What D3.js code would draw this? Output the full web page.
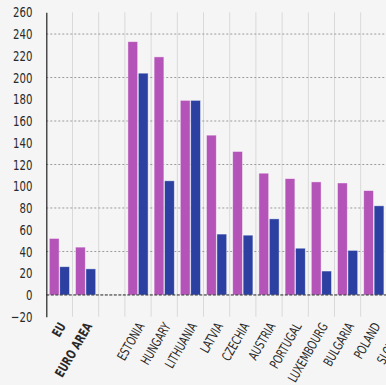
<!DOCTYPE html>
<html>
<head>
<meta charset="utf-8">
<script src="https://cdn.jsdelivr.net/npm/d3@7"></script>
<style>
  html, body { margin: 0; padding: 0; background: #f5f5f5; overflow: hidden; }
  svg { display: block; }
</style>
</head>
<body>
<div id="app"></div>
<script>
// Categories (blank gap after EURO AREA, last one cut off at the edge)
const categories = ['EU', 'EURO AREA', '', 'ESTONIA', 'HUNGARY', 'LITHUANIA', 'LATVIA', 'CZECHIA',
  'AUSTRIA', 'PORTUGAL', 'LUXEMBOURG', 'BULGARIA', 'POLAND', 'SLOVAKIA'];
const boldCats = ['EU', 'EURO AREA'];
const seriesA = [52, 44, 0, 233, 219, 179, 147, 132, 112, 107, 104, 103, 96, 90];
const seriesB = [26, 24, 0, 204, 105, 179, 56, 55, 70, 43, 22, 41, 82, 50];
const yTicks = d3.range(-20, 261, 20);
const gridTicks = [40, 80, 120, 160, 200, 240];

const W = 386, H = 385;
const left = 46.3, band = 26.2;
const font = '"DejaVu Sans Condensed", "Liberation Sans Narrow", sans-serif';

const svg = d3.select('#app').append('svg')
  .attr('width', W).attr('height', H);

const x = d3.scaleBand()
  .domain(categories)
  .range([left, left + band * categories.length])
  .padding(0);

const x1 = d3.scaleBand()
  .domain(['a', 'b'])
  .range([3, band - 3])
  .paddingInner(0.06);

const y = d3.scaleLinear()
  .domain([-20, 260])
  .range([316.7, 12.3]);

// vertical separators
svg.append('g')
  .selectAll('line')
  .data(categories.slice(1))
  .join('line')
  .attr('x1', d => x(d)).attr('x2', d => x(d))
  .attr('y1', y(260)).attr('y2', y(-20))
  .attr('stroke', '#d9d9d9').attr('stroke-width', 1);

// horizontal gridlines
svg.append('g')
  .selectAll('line')
  .data(gridTicks)
  .join('line')
  .attr('x1', left).attr('x2', W)
  .attr('y1', d => y(d)).attr('y2', d => y(d))
  .attr('stroke', '#9a9a9a').attr('stroke-width', 1)
  .attr('stroke-dasharray', '2,2');

// bars
const groups = svg.append('g')
  .selectAll('g')
  .data(categories.map((c, i) => ({c, a: seriesA[i], b: seriesB[i]})))
  .join('g')
  .attr('transform', d => `translate(${x(d.c)},0)`);

groups.filter(d => d.a > 0).append('rect')
  .attr('x', x1('a')).attr('width', x1.bandwidth())
  .attr('y', d => y(d.a)).attr('height', d => y(0) - y(d.a))
  .attr('fill', '#b453b8')
  .attr('stroke', 'rgba(255,255,255,0.55)').attr('stroke-width', 0.8);

groups.filter(d => d.b > 0).append('rect')
  .attr('x', x1('b')).attr('width', x1.bandwidth())
  .attr('y', d => y(d.b)).attr('height', d => y(0) - y(d.b))
  .attr('fill', '#2b40a1')
  .attr('stroke', 'rgba(255,255,255,0.55)').attr('stroke-width', 0.8);

// zero line
svg.append('line')
  .attr('x1', left).attr('x2', W)
  .attr('y1', y(0)).attr('y2', y(0))
  .attr('stroke', '#222').attr('stroke-width', 1)
  .attr('stroke-dasharray', '3,1.5');

// y axis
const yAxis = svg.append('g')
  .attr('transform', `translate(${left},0)`)
  .call(d3.axisLeft(y).tickValues(yTicks).tickSize(0));
yAxis.select('.domain').attr('stroke', '#222').attr('stroke-width', 1.2);
yAxis.selectAll('text')
  .attr('font-family', font)
  .attr('font-size', 14.5)
  .attr('fill', '#2a2a2a')
  .attr('x', -17.8)
  .attr('transform', 'scale(0.78,1)');

// x labels
const xAxis = svg.append('g')
  .attr('transform', `translate(0,${y(-20)})`)
  .call(d3.axisBottom(x).tickSize(0).tickFormat(d => d));
xAxis.select('.domain').remove();
xAxis.selectAll('text')
  .attr('font-family', font)
  .attr('font-size', 13)
  .attr('fill', '#2a2a2a')
  .attr('font-weight', d => boldCats.includes(d) ? 'bold' : 'normal')
  .attr('text-anchor', 'end')
  .attr('dy', '0.35em')
  .attr('transform', 'translate(3,7) rotate(-60) scale(0.8,1)')
  .attr('y', 0).attr('x', 0);
</script>
</body>
</html>
